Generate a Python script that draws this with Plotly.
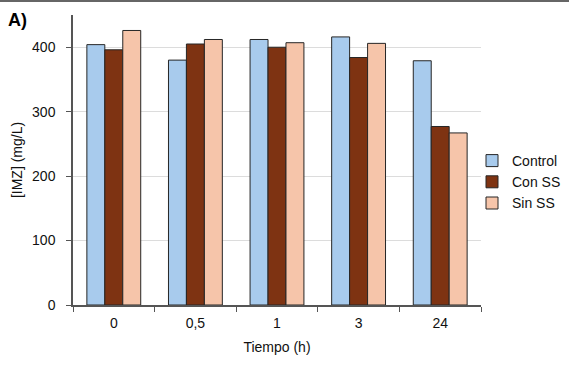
import plotly.graph_objects as go

categories = ["0", "0,5", "1", "3", "24"]
control = [404, 380, 412, 416, 379]
con_ss = [396, 405, 400, 384, 277]
sin_ss = [426, 412, 407, 406, 267]
series_names = ["Control", "Con SS", "Sin SS"]
colors = ["#a8cbed", "#7e3312", "#f6c5aa"]

fig = go.Figure()
for name, vals, col in zip(series_names, [control, con_ss, sin_ss], colors):
    fig.add_trace(go.Bar(x=categories, y=vals, name=name,
                         marker=dict(color=col, line=dict(color="#262626", width=1))))

W, H = 569, 369
ml, mr, mt, mb = 73, 88, 15, 64
pw, ph = W - ml - mr, H - mt - mb
fig.update_layout(
    width=W, height=H,
    margin=dict(l=ml, r=mr, t=mt, b=mb, autoexpand=False),
    paper_bgcolor="white", plot_bgcolor="white",
    font=dict(family="Liberation Sans, Arial", size=14, color="#111"),
    barmode="group", bargap=0.34, bargroupgap=0,
    showlegend=True,
    legend=dict(x=(472 - ml) / pw, y=(305 - 182) / ph, xanchor="left", yanchor="middle",
                font=dict(size=14), bgcolor="rgba(0,0,0,0)", tracegroupgap=0),
    xaxis=dict(type="category", showline=True, linecolor="#555", linewidth=1.5,
               ticks="outside", tickson="boundaries", ticklen=5, tickcolor="#555",
               ticklabelstandoff=4,
               title=dict(text="Tiempo (h)", font=dict(size=14), standoff=13),
               tickfont=dict(size=14)),
    yaxis=dict(range=[0, 450], tickvals=[0, 100, 200, 300, 400],
               showline=True, linecolor="#555", linewidth=1.5,
               ticks="outside", ticklen=5, tickcolor="#555",
               ticklabelstandoff=8,
               showgrid=True, gridcolor="#dcdcdc", gridwidth=1,
               zeroline=False,
               title=dict(text="[IMZ] (mg/L)", font=dict(size=14), standoff=6),
               tickfont=dict(size=14)),
    annotations=[dict(text="<b>A)</b>", xref="paper", yref="paper",
                      x=-(ml - 6) / pw, y=1 + (mt - 8) / ph,
                      xanchor="left", yanchor="top", showarrow=False,
                      font=dict(size=18, color="#000"))],
    shapes=[dict(type="line", xref="paper", yref="paper",
                 x0=-ml / pw, x1=1 + mr / pw,
                 y0=1 + (mt - 1) / ph, y1=1 + (mt - 1) / ph,
                 line=dict(color="#666", width=2))],
)
fig.write_html("out.html", config={"displayModeBar": False},
               post_script="document.body.style.margin='0';document.body.style.overflow='hidden';")
